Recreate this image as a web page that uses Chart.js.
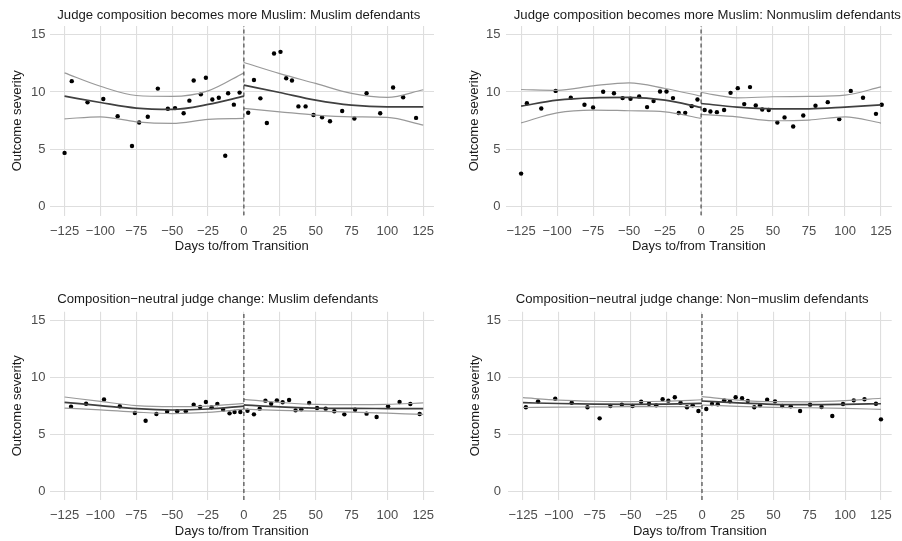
<!DOCTYPE html>
<html>
<head>
<meta charset="utf-8">
<script src="https://cdn.jsdelivr.net/npm/chart.js@4.4.1/dist/chart.umd.min.js"></script>
<style>
  html, body { margin: 0; padding: 0; background: #fff; }
  #wrap { position: relative; width: 902px; height: 541px; overflow: hidden; }
  canvas { position: absolute; }
</style>
</head>
<body>
<div id="wrap">
  <canvas id="c1" width="451" height="270" style="left:0;top:0"></canvas>
  <canvas id="c2" width="451" height="270" style="left:451px;top:0"></canvas>
  <canvas id="c3" width="451" height="271" style="left:0;top:270px"></canvas>
  <canvas id="c4" width="451" height="271" style="left:451px;top:270px"></canvas>
</div>
<script>
// axis ticks
const dayTicks = [-125, -100, -75, -50, -25, 0, 25, 50, 75, 100, 125];
const sevTicks = [0, 5, 10, 15];
const fitLeftDays = [-125, -100, -75, -50, -25, 0];
const fitRightDays = [0, 25, 50, 75, 100, 125];

// panel 1: more Muslim, Muslim defendants
const p1Days = [-125, -120, -109, -98, -88, -78, -73, -67, -60, -53, -48, -42, -38, -35, -30, -26.5, -22, -17.5, -13, -11, -7, -3,
  3, 7, 11.5, 16, 21, 25.5, 29.5, 33.5, 38, 43, 48.5, 54.5, 60, 68.5, 77, 85.5, 95, 104, 111, 120];
const p1Sev = [4.7, 10.95, 9.1, 9.4, 7.9, 5.3, 7.35, 7.85, 10.3, 8.55, 8.6, 8.15, 9.25, 11.0, 9.8, 11.25, 9.35, 9.5, 4.45, 9.9, 8.9, 9.95,
  8.2, 11.05, 9.45, 7.3, 13.35, 13.5, 11.2, 11.0, 8.75, 8.75, 8.0, 7.8, 7.45, 8.35, 7.7, 9.9, 8.15, 10.4, 9.55, 7.75];
const p1MidL = [9.64, 9.09, 8.6, 8.49, 8.92, 9.64];
const p1HiL = [11.67, 10.5, 9.7, 9.62, 10.1, 11.67];
const p1LoL = [7.67, 7.84, 7.41, 7.27, 7.62, 7.7];
const p1MidR = [10.6, 9.96, 9.3, 8.86, 8.71, 8.71];
const p1HiR = [12.57, 11.6, 10.75, 9.88, 9.53, 10.2];
const p1LoR = [8.57, 8.28, 7.99, 7.84, 7.79, 7.12];

// panel 2: more Muslim, Nonmuslim defendants
const p2Days = [-125, -121, -111, -101, -90.5, -81, -75, -68, -60.5, -54.5, -49, -43, -37.5, -33, -28.5, -24, -19.5, -15.5, -11, -6.5, -2.5,
  2.5, 6.5, 11, 16, 20.5, 25.5, 30, 34, 38, 42.5, 47, 53, 58, 64, 71, 79.5, 88, 96, 104, 112.5, 121.5, 125.5];
const p2Sev = [2.9, 9.03, 8.57, 10.1, 9.5, 8.89, 8.66, 10.02, 9.9, 9.47, 9.41, 9.62, 8.69, 9.21, 10.05, 10.05, 9.47, 8.17, 8.19, 8.77, 9.35,
  8.43, 8.31, 8.25, 8.43, 9.93, 10.34, 8.95, 10.43, 8.83, 8.48, 8.43, 7.35, 7.79, 7.0, 7.96, 8.8, 9.12, 7.64, 10.1, 9.5, 8.1, 8.89];
const p2MidL = [8.77, 9.3, 9.5, 9.53, 9.3, 8.66];
const p2HiL = [10.22, 10.15, 10.54, 10.8, 10.31, 9.64];
const p2LoL = [7.32, 8.19, 8.43, 8.37, 8.28, 7.7];
const p2MidR = [9.0, 8.69, 8.54, 8.54, 8.69, 8.89];
const p2HiR = [9.96, 9.5, 9.59, 9.62, 9.73, 10.45];
const p2LoR = [8.05, 7.84, 7.5, 7.56, 7.84, 7.3];

// panel 3: neutral change, Muslim defendants
const p3Days = [-120.5, -110, -97.5, -86.5, -76, -68.5, -61, -53.5, -46.5, -40.5, -35, -30.5, -26.5, -22.5, -18.5, -14.5, -10, -6.5, -2.5,
  2.5, 7, 11, 15, 19, 23, 27, 31.5, 36, 40, 45.5, 51, 57, 63, 70, 77.5, 85.5, 92.5, 100.5, 108.5, 116, 122.5];
const p3Sev = [7.42, 7.68, 8.06, 7.46, 6.87, 6.19, 6.78, 6.98, 7.02, 7.02, 7.6, 7.39, 7.83, 7.37, 7.66, 7.16, 6.84, 6.96, 6.96,
  7.07, 6.75, 7.25, 7.95, 7.68, 7.98, 7.81, 8.01, 7.1, 7.19, 7.75, 7.31, 7.25, 7.02, 6.75, 7.16, 6.81, 6.52, 7.46, 7.83, 7.66, 6.78];
const p3MidL = [7.8, 7.52, 7.25, 7.13, 7.22, 7.48];
const p3HiL = [8.27, 7.88, 7.52, 7.42, 7.48, 7.72];
const p3LoL = [7.3, 7.15, 6.95, 6.82, 6.92, 7.2];
const p3MidR = [7.58, 7.4, 7.3, 7.27, 7.26, 7.25];
const p3HiR = [8.07, 7.8, 7.62, 7.6, 7.62, 7.75];
const p3LoR = [7.2, 7.1, 7.03, 6.95, 6.85, 6.75];

// panel 4: neutral change, Non-muslim defendants
const p4Days = [-123, -114.5, -102.5, -91, -80, -71.5, -64, -56, -48.5, -42.5, -37, -32, -27.5, -23.5, -19, -15, -10.5, -6.5, -2.5,
  3, 7, 11, 15.5, 19.5, 23.5, 28, 32, 36.5, 40.5, 45.5, 51, 56, 62, 68.5, 75.5, 83.5, 91, 98.5, 106, 113.5, 121.5, 125];
const p4Sev = [7.37, 7.89, 8.12, 7.77, 7.37, 6.4, 7.48, 7.6, 7.48, 7.86, 7.68, 7.54, 8.07, 7.95, 8.25, 7.77, 7.37, 7.54, 7.04,
  7.22, 7.66, 7.63, 7.98, 7.89, 8.25, 8.16, 7.92, 7.37, 7.54, 8.04, 7.89, 7.48, 7.46, 7.04, 7.6, 7.39, 6.6, 7.66, 7.98, 8.07, 7.68, 6.31];
const p4MidL = [7.77, 7.7, 7.65, 7.63, 7.65, 7.72];
const p4HiL = [8.21, 8.0, 7.9, 7.86, 7.9, 8.03];
const p4LoL = [7.35, 7.38, 7.4, 7.42, 7.42, 7.42];
const p4MidR = [7.92, 7.75, 7.63, 7.6, 7.63, 7.68];
const p4HiR = [8.3, 8.0, 7.86, 7.85, 7.95, 8.16];
const p4LoR = [7.57, 7.45, 7.37, 7.33, 7.27, 7.19];

const xMin = -135.5, xMax = 132.5;
const yMin = -0.75, yMax = 15.75;

Chart.defaults.font.family = '"Liberation Sans", Arial, sans-serif';
Chart.defaults.font.size = 13;

const pairs = (xs, ys) => xs.map((x, i) => ({ x: x, y: ys[i] }));
const minus = v => (v < 0 ? '\u2212' + Math.abs(v) : String(v));

// left-aligned panel title, like ggplot's default
const panelTitle = {
    id: 'panelTitle',
    afterDraw(chart, args, opts) {
        const { ctx, chartArea } = chart;
        ctx.save();
        ctx.font = '13.15px "Liberation Sans", Arial, sans-serif';
        ctx.fillStyle = '#1a1a1a';
        ctx.textAlign = 'left';
        ctx.textBaseline = 'middle';
        ctx.fillText(opts.text, chartArea.left + opts.dx, opts.y);
        ctx.restore();
    }
};

function curve(xs, ys, color, width) {
    return {
        data: pairs(xs, ys),
        showLine: true,
        borderColor: color,
        borderWidth: width,
        pointRadius: 0,
        cubicInterpolationMode: 'monotone',
        fill: false
    };
}

function makePanel(id, title, pos, days, sev, midL, hiL, loL, midR, hiR, loR) {
    const canvas = document.getElementById(id);
    const W = canvas.width, H = canvas.height;

    new Chart(canvas, {
        type: 'scatter',
        plugins: [panelTitle],
        data: {
            datasets: [
                {
                    data: [{ x: 0, y: yMin }, { x: 0, y: yMax }],
                    showLine: true, borderColor: '#3a3a3a', borderWidth: 1.1,
                    borderDash: [4, 3], pointRadius: 0
                },
                curve(fitLeftDays, hiL, '#999999', 1.2),
                curve(fitLeftDays, loL, '#999999', 1.2),
                curve(fitRightDays, hiR, '#999999', 1.2),
                curve(fitRightDays, loR, '#999999', 1.2),
                curve(fitLeftDays, midL, '#404040', 1.7),
                curve(fitRightDays, midR, '#404040', 1.7),
                {
                    data: pairs(days, sev),
                    pointRadius: 2.2,
                    pointBackgroundColor: '#000',
                    pointBorderColor: '#000',
                    pointBorderWidth: 0
                }
            ]
        },
        options: {
            responsive: false,
            animation: false,
            events: [],
            layout: { padding: { left: 0, top: pos.top, bottom: 0, right: W - pos.right } },
            plugins: {
                legend: { display: false },
                tooltip: { enabled: false },
                panelTitle: { text: title, y: pos.titleY, dx: 7.8 }
            },
            scales: {
                x: {
                    type: 'linear',
                    min: xMin,
                    max: xMax,
                    afterBuildTicks: s => { s.ticks = dayTicks.map(v => ({ value: v })); },
                    afterFit: s => { s.height = H - pos.bottom; },
                    grid: { color: '#dedede', lineWidth: 1.1, drawTicks: false },
                    border: { display: false },
                    ticks: { padding: 8, color: '#4d4d4d', maxRotation: 0, autoSkip: false, callback: v => minus(v) },
                    title: {
                        display: true, text: 'Days to/from Transition', color: '#1a1a1a',
                        padding: { top: 0, bottom: H - pos.xTitleY - 7.8 }
                    }
                },
                y: {
                    type: 'linear',
                    min: yMin,
                    max: yMax,
                    afterBuildTicks: s => { s.ticks = sevTicks.map(v => ({ value: v })); },
                    afterFit: s => { s.width = pos.left; },
                    grid: { color: '#dedede', lineWidth: 1.1, drawTicks: false },
                    border: { display: false },
                    ticks: { padding: pos.tickPad, color: '#4d4d4d' },
                    title: {
                        display: true, text: 'Outcome severity', color: '#1a1a1a',
                        padding: { top: pos.yTitleX - 7.8, bottom: 0 }
                    }
                }
            }
        }
    });
}

makePanel('c1', 'Judge composition becomes more Muslim: Muslim defendants',
    { left: 49.5, right: 434, top: 26, bottom: 215.5, titleY: 15, yTitleX: 17.3, xTitleY: 246.7, tickPad: 4 },
    p1Days, p1Sev, p1MidL, p1HiL, p1LoL, p1MidR, p1HiR, p1LoR);
makePanel('c2', 'Judge composition becomes more Muslim: Nonmuslim defendants',
    { left: 55, right: 440.8, top: 26, bottom: 215.5, titleY: 15, yTitleX: 23.3, xTitleY: 246.7, tickPad: 5.5 },
    p2Days, p2Sev, p2MidL, p2HiL, p2LoL, p2MidR, p2HiR, p2LoR);
makePanel('c3', 'Composition\u2212neutral judge change: Muslim defendants',
    { left: 49.5, right: 434, top: 41.7, bottom: 229.9, titleY: 29.3, yTitleX: 17.3, xTitleY: 261.7, tickPad: 4 },
    p3Days, p3Sev, p3MidL, p3HiL, p3LoL, p3MidR, p3HiR, p3LoR);
makePanel('c4', 'Composition\u2212neutral judge change: Non\u2212muslim defendants',
    { left: 57, right: 440.7, top: 41.7, bottom: 229.9, titleY: 29.3, yTitleX: 24, xTitleY: 261.7, tickPad: 7 },
    p4Days, p4Sev, p4MidL, p4HiL, p4LoL, p4MidR, p4HiR, p4LoR);
</script>
</body>
</html>
